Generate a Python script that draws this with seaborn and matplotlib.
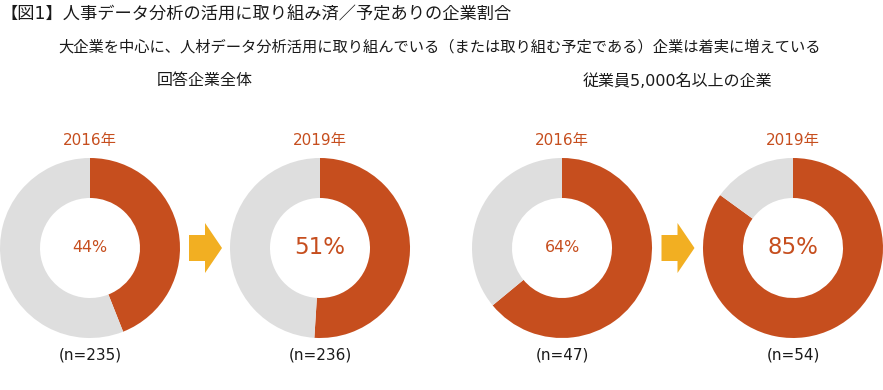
import matplotlib
matplotlib.use("Agg")
import matplotlib.pyplot as plt
import seaborn as sns
from matplotlib.patches import Polygon

sns.set_theme(style="white")
# Verdana-like latin glyphs first, Japanese falls through to Noto CJK
plt.rcParams['font.family'] = ['DejaVu Sans', 'Noto Sans CJK JP']

# data
groups = ["回答企業全体", "従業員5,000名以上の企業"]
years = ["2016年", "2019年", "2016年", "2019年"]
pcts = [44, 51, 64, 85]
ns = [235, 236, 47, 54]
big_label = [False, True, False, True]

ORANGE = "#C64E1E"
GRAY = "#DEDEDE"
ARROW = "#F2AF22"
TEXT = "#1a1a1a"

W, H = 883, 390
fig = plt.figure(figsize=(W / 100, H / 100), dpi=100)
ax = fig.add_axes([0, 0, 1, 1])

centers_x = [90, 320, 562, 793]
cy = H - 248
radius = 90
ring = 40

for i, (cx, p) in enumerate(zip(centers_x, pcts)):
    ax.pie([p, 100 - p], colors=[ORANGE, GRAY], startangle=90, counterclock=False,
           center=(cx, cy), radius=radius,
           wedgeprops=dict(width=ring, linewidth=0))
    ax.text(cx, H - 140, years[i], ha="center", va="center", color=ORANGE, fontsize=11)
    ax.text(cx, cy, f"{p}%", ha="center", va="center", color=ORANGE,
            fontsize=16.5 if big_label[i] else 11.4)
    ax.text(cx, H - 355, f"(n={ns[i]})", ha="center", va="center", color=TEXT, fontsize=11)

# arrows between the pairs
for a, b in [(0, 1), (2, 3)]:
    mx = (centers_x[a] + centers_x[b]) / 2
    x0, x1, x2 = mx - 16, mx, mx + 17
    pts = [(x0, cy + 13), (x1, cy + 13), (x1, cy + 25), (x2, cy), (x1, cy - 25),
           (x1, cy - 13), (x0, cy - 13)]
    ax.add_patch(Polygon(pts, closed=True, facecolor=ARROW, edgecolor="none"))

    ax.text(mx, H - 81, groups[a // 2], ha="center", va="center", color=TEXT, fontsize=11.5)

ax.text(0, H - 15, "【図1】人事データ分析の活用に取り組み済／予定ありの企業割合",
        ha="left", va="center", color=TEXT, fontsize=12.4)
ax.text(440, H - 47,
        "大企業を中心に、人材データ分析活用に取り組んでいる（または取り組む予定である）企業は着実に増えている",
        ha="center", va="center", color=TEXT, fontsize=11)

ax.set_xlim(0, W)
ax.set_ylim(0, H)
ax.set_aspect("auto")
ax.axis("off")

fig.savefig("out.png", dpi=100)
